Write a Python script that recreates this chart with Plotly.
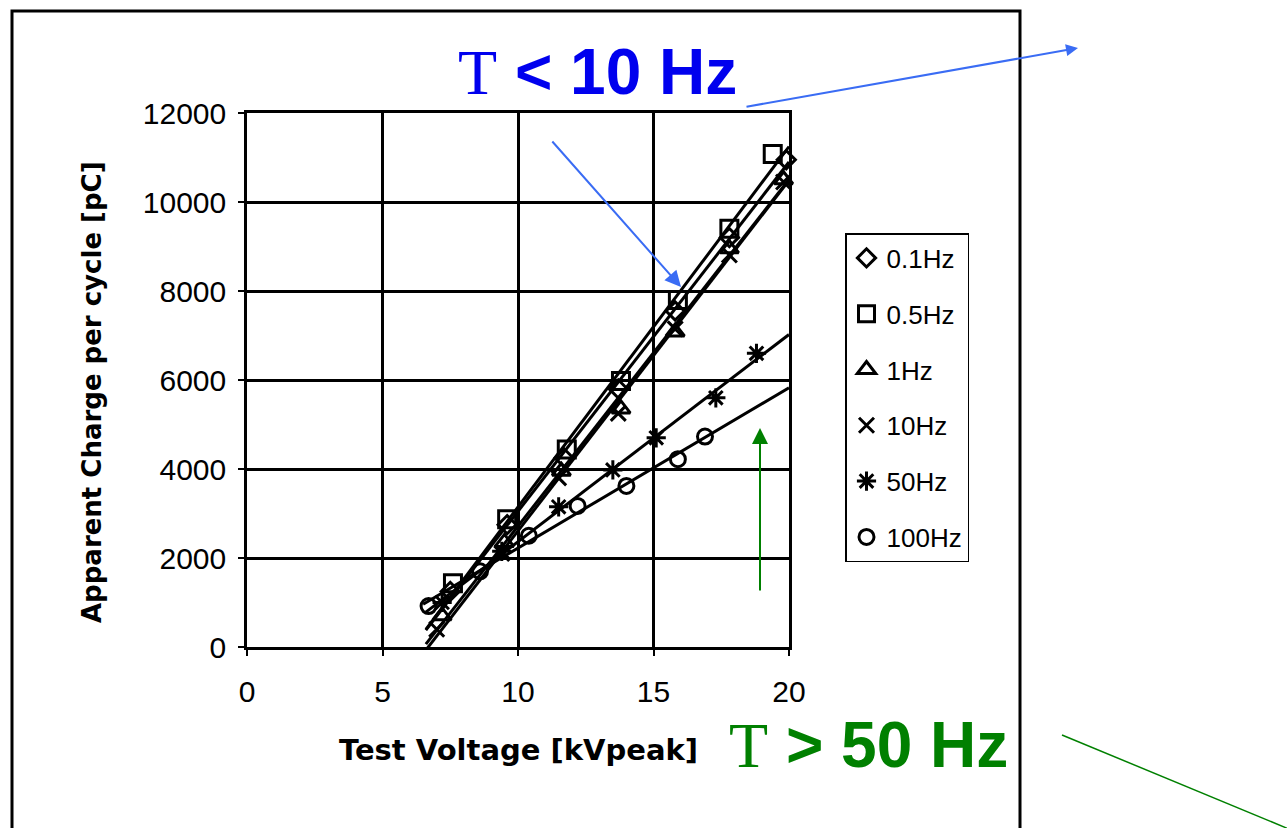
import numpy as np
import plotly.graph_objects as go

# ---- data ----
series_names = ["0.1Hz", "0.5Hz", "1Hz", "10Hz", "50Hz", "100Hz"]

v_01 = [7.5, 9.6, 11.7, 13.7, 15.8, 17.8, 19.9]
q_01 = [1250, 2750, 4250, 5800, 7550, 9200, 10950]

v_05 = [7.6, 9.6, 11.8, 13.8, 15.9, 17.8, 19.4]
q_05 = [1430, 2870, 4440, 5980, 7800, 9400, 11080]

v_1 = [7.2, 9.5, 11.6, 13.8, 15.8, 17.8, 19.8]
q_1 = [700, 2350, 3950, 5350, 7080, 8950, 10500]

v_10 = [7.0, 9.4, 11.5, 13.7, 15.8, 17.8, 19.8]
q_10 = [400, 2100, 3800, 5250, 7150, 8810, 10450]

v_50 = [7.2, 9.4, 11.5, 13.5, 15.1, 17.3, 18.8]
q_50 = [1000, 2150, 3150, 3980, 4700, 5600, 6600]

v_100 = [6.7, 8.6, 10.4, 12.2, 14.0, 15.9, 16.9]
q_100 = [920, 1700, 2500, 3170, 3620, 4220, 4730]

trend_start = [6.6, 6.6, 6.6, 6.6, 6.6, 6.5]
trend_end = [20, 20, 20, 20, 20, 20]

x_ticks = [0, 5, 10, 15, 20]
y_ticks = [0, 2000, 4000, 6000, 8000, 10000, 12000]

symbols = ["diamond-open", "square-open", "triangle-up-open",
           "x-thin-open", "asterisk-open", "circle-open"]
sizes = [14, 17, 16, 15, 16, 15]

volts = [v_01, v_05, v_1, v_10, v_50, v_100]
charges = [q_01, q_05, q_1, q_10, q_50, q_100]

fig = go.Figure()

# trend lines (least-squares fit of each series)
for i, (vx, qy) in enumerate(zip(volts, charges)):
    k, b = np.polyfit(vx, qy, 1)
    xs = [trend_start[i], trend_end[i]]
    fig.add_trace(go.Scatter(
        x=xs, y=[k * xs[0] + b, k * xs[1] + b], mode="lines",
        line=dict(color="black", width=3), showlegend=False,
        hoverinfo="skip"))

# markers
for i, (vx, qy) in enumerate(zip(volts, charges)):
    fig.add_trace(go.Scatter(
        x=vx, y=qy, mode="markers", name=series_names[i],
        legendgroup=series_names[i],
        marker=dict(symbol=symbols[i], size=sizes[i], color="black",
                    line=dict(color="black", width=3)),
        cliponaxis=False))

L, R, T, B = 247, 498, 113, 181
W, H = 1287, 828
PW, PH = W - L - R, H - T - B


def px(xp):
    return (xp - L) / PW


def py(yp):
    return (H - B - yp) / PH


fig.update_layout(
    width=W, height=H,
    margin=dict(l=L, r=R, t=T, b=B, pad=0),
    paper_bgcolor="white", plot_bgcolor="white",
    font=dict(family="Liberation Sans, Arial", color="black"),
    showlegend=True,
    legend=dict(x=px(845), y=py(233), xanchor="left", yanchor="top",
                bordercolor="black", borderwidth=1.5, bgcolor="white",
                font=dict(size=26, family="Liberation Sans, Arial"),
                tracegroupgap=19, itemsizing="trace"),
    xaxis=dict(range=[0, 20], tickvals=x_ticks, ticktext=[str(t) for t in x_ticks],
               showgrid=True, gridcolor="black", gridwidth=2.5,
               showline=True, linecolor="black", linewidth=2.5, mirror=True,
               ticks="outside", ticklen=6, tickcolor="black", tickwidth=1.5,
               ticklabelstandoff=10,
               tickfont=dict(size=30, family="Liberation Sans, Arial"),
               zeroline=False, fixedrange=True),
    yaxis=dict(range=[0, 12000], tickvals=y_ticks, ticktext=[str(t) for t in y_ticks],
               showgrid=True, gridcolor="black", gridwidth=2.5,
               showline=True, linecolor="black", linewidth=2.5, mirror=True,
               ticks="outside", ticklen=6, tickcolor="black", tickwidth=1.5,
               ticklabelstandoff=6,
               tickfont=dict(size=30, family="Liberation Sans, Arial"),
               zeroline=False, fixedrange=True),
)

ann = []
# axis titles
ann.append(dict(text="<b>Apparent Charge per cycle [pC]</b>", xref="paper", yref="paper",
                x=px(92), y=py(392), textangle=-90, showarrow=False,
                font=dict(size=26, family="DejaVu Sans", color="black"),
                xanchor="center", yanchor="middle"))
ann.append(dict(text="<b>Test Voltage [kVpeak]</b>", xref="paper", yref="paper",
                x=px(518), y=py(750), showarrow=False,
                font=dict(size=29, family="DejaVu Sans", color="black"),
                xanchor="center", yanchor="middle"))
# highlighted labels
ann.append(dict(text="<span style=\"font-family:Liberation Serif;font-weight:normal\">T</span> <b>&lt; 10 Hz</b>",
                xref="paper", yref="paper", x=px(597), y=py(72), showarrow=False,
                font=dict(size=64, family="Liberation Sans, Arial", color="#0000ee"),
                xanchor="center", yanchor="middle"))
ann.append(dict(text="<span style=\"font-family:Liberation Serif;font-weight:normal\">T</span> <b>&gt; 50 Hz</b>",
                xref="paper", yref="paper", x=px(868), y=py(745), showarrow=False,
                font=dict(size=64, family="Liberation Sans, Arial", color="#008000"),
                xanchor="center", yanchor="middle"))
# arrows
blue = "#3a6cf4"
green = "#008000"
ann.append(dict(text="", xref="paper", yref="paper", x=px(1078), y=py(48),
                ax=745 - 1078, ay=107 - 48, showarrow=True, arrowhead=2,
                arrowsize=1.2, arrowwidth=2, arrowcolor=blue))
ann.append(dict(text="", xref="paper", yref="paper", x=px(681), y=py(287),
                ax=551 - 681, ay=140 - 287, showarrow=True, arrowhead=2,
                arrowsize=1.6, arrowwidth=2, arrowcolor=blue))
ann.append(dict(text="", xref="paper", yref="paper", x=px(760), y=py(428),
                ax=0, ay=592 - 428, showarrow=True, arrowhead=2,
                arrowsize=1.6, arrowwidth=2, arrowcolor=green))
fig.update_layout(annotations=ann)

fig.update_layout(shapes=[
    dict(type="line", xref="paper", yref="paper", x0=px(1062), y0=py(735),
         x1=px(1400), y1=py(875), line=dict(color=green, width=1.5)),
    dict(type="rect", xref="paper", yref="paper", x0=px(12), y0=py(900),
         x1=px(1020), y1=py(11), line=dict(color="black", width=3), layer="below"),
])

fig.write_html("out.html")
